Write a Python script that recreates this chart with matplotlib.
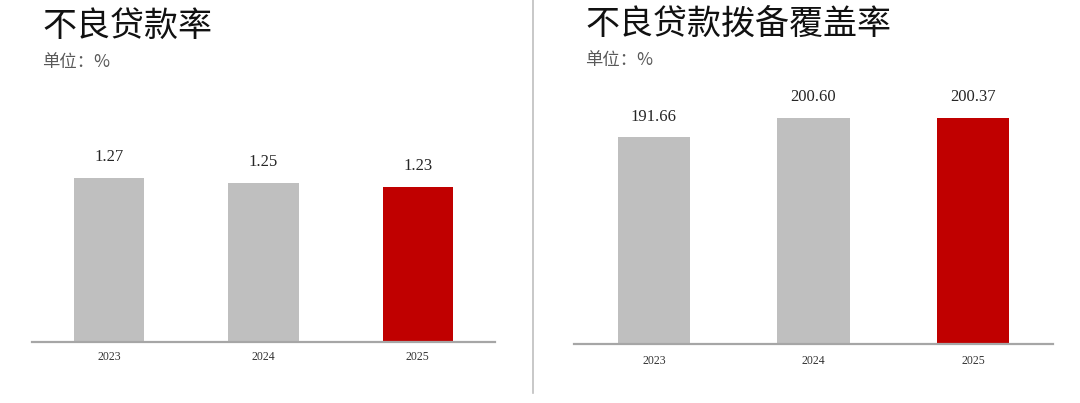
import matplotlib
matplotlib.use("Agg")
import matplotlib.pyplot as plt
from matplotlib.lines import Line2D

years = ["2023", "2024", "2025"]
npl_ratio = [1.27, 1.25, 1.23]
coverage_ratio = [191.66, 200.60, 200.37]
titles = ["不良贷款率", "不良贷款拨备覆盖率"]
unit_label = "单位：%"

GRAY = "#BFBFBF"
RED = "#C00000"
AXIS = "#A6A6A6"

W, H = 1080, 403
fig = plt.figure(figsize=(W / 100, H / 100), dpi=100)
fig.patch.set_facecolor("white")

CJK = ["Noto Sans CJK SC", "DejaVu Sans"]
SERIF = ["Liberation Serif", "DejaVu Serif"]


def px_axes(x0, x1, ybase, ytop):
    return fig.add_axes([x0 / W, (H - ybase) / H, (x1 - x0) / W, (ybase - ytop) / H])


def draw(ax, values, ylim, tick_pad):
    colors = [GRAY] * (len(values) - 1) + [RED]
    x = list(range(len(values)))
    bars = ax.bar(x, values, width=0.455, color=colors, zorder=2)
    ax.set_xlim(-0.5, len(values) - 0.5)
    ax.set_ylim(*ylim)
    for s in ["top", "right", "left"]:
        ax.spines[s].set_visible(False)
    ax.spines["bottom"].set_color(AXIS)
    ax.spines["bottom"].set_linewidth(1.6)
    ax.spines["bottom"].set_zorder(3)
    ax.set_yticks([])
    ax.set_xticks(x)
    ax.set_xticklabels(years, family=SERIF, fontsize=8.5, color="#333333")
    ax.tick_params(axis="x", length=0, pad=tick_pad)
    for b, v in zip(bars, values):
        ax.annotate(f"{v:.2f}", (b.get_x() + b.get_width() / 2, b.get_height()),
                    xytext=(0, 15), textcoords="offset points",
                    ha="center", va="center", family=SERIF, fontsize=12,
                    color="#262626")
    ax.set_facecolor("none")


# left chart: baseline at y=341.7px, 210 px per unit
ax1 = px_axes(32, 495, 341.7, 90)
ymin1 = 0.492
draw(ax1, npl_ratio, (ymin1, ymin1 + (341.7 - 90) / 210.0), 7)

# right chart: baseline at y=344px, 2.19 px per unit
ax2 = px_axes(574, 1053, 344, 90)
ymin2 = 97.3
draw(ax2, coverage_ratio, (ymin2, ymin2 + (344 - 90) / 2.19), 8)

# titles and units
fig.text(42 / W, 1 - 26 / H, titles[0], family=CJK, fontsize=24.5,
         color="#111111", ha="left", va="center")
fig.text(42 / W, 1 - 62 / H, unit_label, family=CJK, fontsize=12.5,
         color="#595959", ha="left", va="center")
fig.text(585 / W, 1 - 24 / H, titles[1], family=CJK, fontsize=24.5,
         color="#111111", ha="left", va="center")
fig.text(585 / W, 1 - 60 / H, unit_label, family=CJK, fontsize=12.5,
         color="#595959", ha="left", va="center")

# vertical divider
fig.add_artist(Line2D([532.7 / W, 532.7 / W], [1.0, 1 - 393 / H],
                      transform=fig.transFigure, color="#BFBFBF", lw=1.2))

fig.savefig("out.png", dpi=100, facecolor="white")
